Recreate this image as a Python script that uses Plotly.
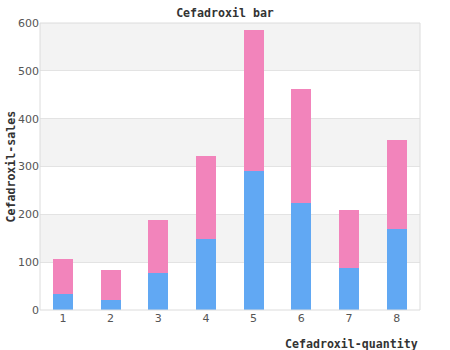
import plotly.graph_objects as go

categories = [1, 2, 3, 4, 5, 6, 7, 8]
blue_values = [34, 21, 77, 148, 291, 224, 88, 169]
pink_values = [73, 63, 111, 174, 295, 238, 121, 187]
y_ticks = [0, 100, 200, 300, 400, 500, 600]

fig = go.Figure()
fig.add_trace(go.Bar(x=categories, y=blue_values, marker_color="#61a8f3",
                     marker_line_width=0, width=0.42, name="a"))
fig.add_trace(go.Bar(x=categories, y=pink_values, marker_color="#f284bb",
                     marker_line_width=0, width=0.42, name="b"))

shapes = []
for lo in [100, 300, 500]:
    shapes.append(dict(type="rect", xref="paper", yref="y", x0=0, x1=1, y0=lo, y1=lo + 100,
                       fillcolor="#f3f3f3", line_width=0, layer="below"))
shapes.append(dict(type="rect", xref="paper", yref="paper", x0=0, x1=1, y0=0, y1=1,
                   line=dict(color="#dcdcdc", width=1), fillcolor="rgba(0,0,0,0)", layer="above"))

mono = "DejaVu Sans Mono"
fig.update_layout(
    barmode="stack",
    width=450, height=350,
    margin=dict(l=40, r=30, t=23, b=40),
    paper_bgcolor="white", plot_bgcolor="white",
    showlegend=False,
    shapes=shapes,
    title=dict(text="<b>Cefadroxil bar</b>", x=0.5, xanchor="center", y=1 - 13 / 350, yanchor="middle",
               font=dict(family=mono, size=11.6, color="#333")),
    xaxis=dict(range=[0.52, 8.49], tickvals=categories, showgrid=False, zeroline=False,
               showline=False, ticks="", tickfont=dict(family="DejaVu Sans", size=11, color="#555"),
               fixedrange=True),
    yaxis=dict(range=[0, 600], tickvals=y_ticks, showgrid=True, gridcolor="#e3e3e3", gridwidth=1,
               zeroline=False, showline=False, ticks="",
               tickfont=dict(family="DejaVu Sans", size=11, color="#555"), fixedrange=True),
    annotations=[
        dict(text="<b>Cefadroxil-quantity</b>", xref="paper", yref="paper", x=1, y=0,
             xanchor="right", yanchor="middle", yshift=-34, showarrow=False,
             font=dict(family=mono, size=11.6, color="#333")),
        dict(text="<b>Cefadroxil-sales</b>", xref="paper", yref="paper", x=0, y=0.5,
             xanchor="center", yanchor="middle", xshift=-30, yshift=0, textangle=-90, showarrow=False,
             font=dict(family=mono, size=11.6, color="#333")),
    ],
)
fig.write_html("out.html")
